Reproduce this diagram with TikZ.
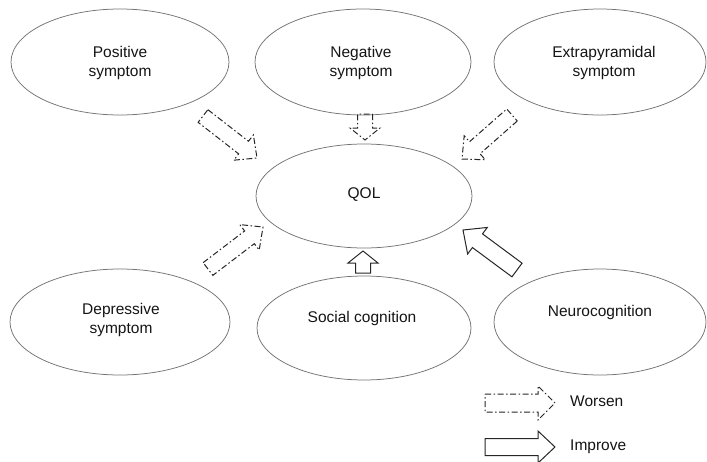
\documentclass[tikz,border=0pt]{standalone}
\usepackage{fontspec}
\setmainfont{Liberation Sans}
\usetikzlibrary{shapes.geometric,calc}
\tikzset{
  ell/.style={draw=black!55, line width=0.75pt, ellipse, inner sep=0pt},
  txt/.style={align=center, text=black!92, font=\fontsize{15.5}{19.5}\selectfont, inner sep=0pt},
  worsen/.style={draw=black!85, line width=1pt, dash pattern=on 6pt off 2.5pt on 1.5pt off 2.5pt, line join=miter},
  improve/.style={draw=black!85, line width=1pt, line join=miter},
}
\newcommand\blockarr[6]{%
  \coordinate (hb) at ($(#3)!#6!(#2)$);
  \draw[#1] ($(#2)!#4!90:(#3)$) -- ($(hb)!#4!90:(#3)$) -- ($(hb)!#5!90:(#3)$) -- (#3)
    -- ($(hb)!#5!-90:(#3)$) -- ($(hb)!#4!-90:(#3)$) -- ($(#2)!#4!-90:(#3)$) -- cycle;
}
\begin{document}
\begin{tikzpicture}[x=1pt,y=-1pt]
\useasboundingbox (0,0) rectangle (707,461);
% ellipses
\node[ell, minimum width=218pt, minimum height=106pt] (pos) at (120,62) {};
\node[ell, minimum width=216pt, minimum height=106pt] (neg) at (363,62) {};
\node[ell, minimum width=212pt, minimum height=106pt] (ext) at (600,62) {};
\node[ell, minimum width=216pt, minimum height=104pt] (qol) at (364,196) {};
\node[ell, minimum width=220pt, minimum height=106pt] (dep) at (120,322) {};
\node[ell, minimum width=214pt, minimum height=104pt] (soc) at (364,328) {};
\node[ell, minimum width=212pt, minimum height=106pt] (neu) at (600,322) {};
% texts
\node[txt] (tpos) at (120,63) {Positive\\symptom};
\node[txt] (tneg) at (361,63) {Negative\\symptom};
\node[txt] (text) at (604,63) {Extrapyramidal\\symptom};
\node[txt] (tqol) at (364,195) {QOL};
\node[txt] (tdep) at (121,320) {Depressive\\symptom};
\node[txt] (tsoc) at (362,318) {Social cognition};
\node[txt] (tneu) at (600,312) {Neurocognition};
% arrow end points
\coordinate (posT) at (203,116); \coordinate (posP) at (257,158);
\coordinate (negT) at (365,114); \coordinate (negP) at (365,140);
\coordinate (extT) at (512,115); \coordinate (extP) at (462,159);
\coordinate (depT) at (208,269); \coordinate (depP) at (263,227);
\coordinate (socT) at (363,273); \coordinate (socP) at (363,251);
\coordinate (neuT) at (517,270); \coordinate (neuP) at (463,230);
\coordinate (lwT) at (485,403); \coordinate (lwP) at (555,403);
\coordinate (liT) at (485,447); \coordinate (liP) at (555,447);
% arrows
\blockarr{worsen}{posT}{posP}{8pt}{16pt}{17pt}
\blockarr{worsen}{negT}{negP}{7.5pt}{15pt}{12pt}
\blockarr{worsen}{extT}{extP}{8pt}{16pt}{17pt}
\blockarr{worsen}{depT}{depP}{8pt}{16pt}{17pt}
\blockarr{improve}{socT}{socP}{7.5pt}{15pt}{12pt}
\blockarr{improve}{neuT}{neuP}{8.5pt}{16.5pt}{18pt}
% legend
\blockarr{worsen}{lwT}{lwP}{9pt}{17pt}{17pt}
\blockarr{improve}{liT}{liP}{8.5pt}{16pt}{17pt}
\node[txt, anchor=west] (lw) at (570,401) {Worsen};
\node[txt, anchor=west] (li) at (570,447) {Improve};
\end{tikzpicture}
\end{document}
